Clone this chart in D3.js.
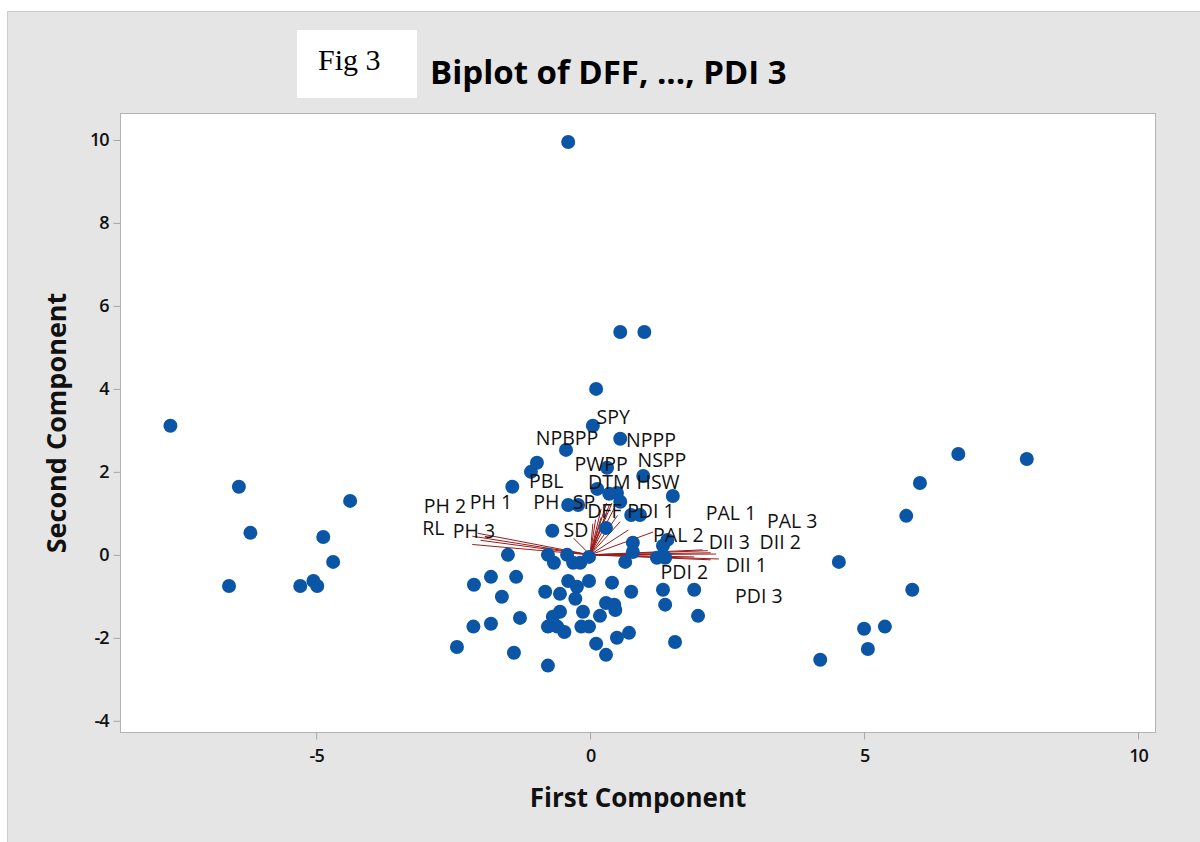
<!DOCTYPE html>
<html>
<head>
<meta charset="utf-8">
<script src="https://cdn.jsdelivr.net/npm/d3@7"></script>
<style>
  body { margin: 0; background: #ffffff; }
  svg { display: block; }
</style>
</head>
<body>
<svg></svg>
<script>
// Constants
const width = 1200;
const height = 842;

const plotLeft = 120;
const plotRight = 1155;
const plotTop = 113;
const plotBottom = 732;

// scores (first component, second component)
const scoreX = [
  -0.40, 0.55, 0.99, 0.11, 0.05, -7.66, 0.55, -0.44, -0.97, -1.08,
  0.31, 0.97, -1.42, 1.51, 0.13, 0.35, 0.49, 0.55, -0.40, -0.22,
  0.75, 0.91, 0.29, -0.69, 0.78, 0.78, 1.41, 1.33, 1.22, 1.37,
  0.64, -1.50, -0.77, -0.66, -0.42, -0.31, -0.18, -0.02, -2.12, -1.81,
  -1.35, -1.61, -0.40, -0.24, -0.02, 0.40, 0.75, 1.33, 1.90, -0.82,
  -0.55, -0.27, 0.29, 0.44, 0.46, 1.37, -0.13, 0.18, -0.55, -0.68,
  -0.77, -0.60, -0.47, -0.16, -0.02, -1.81, -1.28, 1.97, 0.71, 0.49,
  0.11, 0.29, -1.39, -0.77, 1.55, -2.13, -2.43,
  -6.41, -4.38, -6.20, -4.87, -4.69, -6.59, -5.29, -5.05, -4.98,
  6.72, 7.97, 6.02, 5.77, 4.54, 5.88, 5.00, 5.38, 5.07, 4.20
];
const scoreY = [
  9.95, 5.37, 5.37, 4.00, 3.11, 3.11, 2.80, 2.53, 2.22, 2.00,
  2.10, 1.90, 1.64, 1.42, 1.59, 1.47, 1.49, 1.28, 1.20, 1.20,
  0.96, 0.96, 0.65, 0.58, 0.29, 0.07, 0.36, 0.22, -0.07, -0.07,
  -0.17, 0.00, 0.00, -0.19, 0.00, -0.19, -0.19, -0.05, -0.72, -0.53,
  -0.53, -1.01, -0.63, -0.77, -0.63, -0.67, -0.89, -0.84, -0.84, -0.89,
  -0.94, -1.06, -1.16, -1.20, -1.33, -1.20, -1.37, -1.47, -1.37, -1.49,
  -1.73, -1.73, -1.86, -1.73, -1.73, -1.66, -1.52, -1.47, -1.88, -2.00,
  -2.14, -2.41, -2.36, -2.67, -2.10, -1.73, -2.22,
  1.64, 1.30, 0.53, 0.43, -0.17, -0.75, -0.75, -0.63, -0.75,
  2.43, 2.31, 1.73, 0.94, -0.17, -0.84, -1.78, -1.73, -2.27, -2.53
];

// variables (loading vectors) and where their labels sit
const varNames = [
  'SPY', 'NPBPP', 'NPPP', 'PWPP', 'NSPP', 'DTM', 'HSW', 'PBL', 'PH', 'SP',
  'DFF', 'PDI 1', 'SD', 'PH 2', 'PH 1', 'RL', 'PH 3',
  'PAL 1', 'PAL 3', 'PAL 2', 'DII 3', 'DII 2', 'DII 1', 'PDI 2', 'PDI 3'
];
const loadX = [
  0.30, 0.20, 0.35, 0.40, 0.45, 0.30, 0.50, 0.10, 0.05, 0.20,
  0.55, 0.70, -0.30, -2.05, -2.15, -2.00, -2.15,
  2.05, 2.15, 1.15, 2.20, 2.30, 2.35, 1.90, 2.20
];
const loadY = [
  1.25, 1.10, 1.20, 1.25, 1.15, 1.00, 0.95, 0.85, 0.75, 0.90,
  0.80, 0.60, 0.40, 0.52, 0.45, 0.35, 0.25,
  0.12, 0.10, 0.55, 0.05, 0.02, -0.10, -0.05, -0.12
];
const labelX = [
  0.42, -0.42, 1.11, 0.20, 1.31, 0.35, 1.24, -0.80, -0.80, -0.11,
  0.26, 1.11, -0.26, -2.65, -1.81, -2.86, -2.12,
  2.57, 3.69, 1.61, 2.54, 3.47, 2.85, 1.72, 3.08
];
const labelY = [
  3.33, 2.84, 2.77, 2.19, 2.31, 1.76, 1.76, 1.78, 1.28, 1.28,
  1.08, 1.08, 0.60, 1.20, 1.28, 0.65, 0.58,
  1.01, 0.82, 0.48, 0.31, 0.31, -0.24, -0.39, -0.99
];

const xTicks = [-5, 0, 5, 10];
const yTicks = [-4, -2, 0, 2, 4, 6, 8, 10];

// svg
const svg = d3.select('svg')
    .attr('width', width)
    .attr('height', height);

// outer panel
svg.append('rect')
    .attr('x', 7.5)
    .attr('y', 11.5)
    .attr('width', width)
    .attr('height', height)
    .attr('fill', '#e5e5e5')
    .attr('stroke', '#cccccc');

// plot area
svg.append('rect')
    .attr('x', plotLeft + 0.5)
    .attr('y', plotTop + 0.5)
    .attr('width', plotRight - plotLeft)
    .attr('height', plotBottom - plotTop)
    .attr('fill', '#ffffff')
    .attr('stroke', '#b3b3b3');

// scales
const x = d3.scaleLinear()
    .domain([-8.58, 10.31])
    .range([plotLeft, plotRight]);

const y = d3.scaleLinear()
    .domain([-4.27, 10.65])
    .range([plotBottom, plotTop]);

// xAxis
const xAxis = d3.axisBottom(x)
    .tickValues(xTicks)
    .tickSize(7)
    .tickPadding(10)
    .tickFormat(d => String(d));

const gx = svg.append('g')
    .attr('transform', `translate(0, ${plotBottom + 0.5})`)
    .call(xAxis);

// yAxis
const yAxis = d3.axisLeft(y)
    .tickValues(yTicks)
    .tickSize(7)
    .tickPadding(5)
    .tickFormat(d => String(d));

const gy = svg.append('g')
    .attr('transform', `translate(${plotLeft + 0.5}, 0)`)
    .call(yAxis);

[gx, gy].forEach(g => {
    g.select('.domain').remove();
    g.selectAll('.tick line').attr('stroke', '#a6a6a6');
    g.selectAll('.tick text')
        .attr('fill', '#111111')
        .style('font-family', '"Open Sans", sans-serif')
        .style('font-weight', 600)
        .style('font-size', '18px')
        .style('letter-spacing', '-1px');
});

// loading vectors
svg.append('g')
    .selectAll('line')
    .data(varNames).enter().append('line')
    .attr('x1', x(0))
    .attr('y1', y(0))
    .attr('x2', (d, i) => x(loadX[i]))
    .attr('y2', (d, i) => y(loadY[i]))
    .attr('stroke', '#9b1b1b')
    .attr('stroke-width', 1);

// score points
svg.append('g')
    .selectAll('circle')
    .data(scoreX).enter().append('circle')
    .attr('cx', d => x(d))
    .attr('cy', (d, i) => y(scoreY[i]))
    .attr('r', 7)
    .attr('fill', '#0a55a6');

// vector labels
svg.append('g')
    .selectAll('text')
    .data(varNames).enter().append('text')
    .attr('x', (d, i) => x(labelX[i]))
    .attr('y', (d, i) => y(labelY[i]))
    .attr('text-anchor', 'middle')
    .attr('dominant-baseline', 'central')
    .attr('fill', '#111111')
    .style('font-family', '"Open Sans", sans-serif')
    .style('font-size', '19.5px')
    .text(d => d);

// titles
svg.append('rect')
    .attr('x', 297)
    .attr('y', 30)
    .attr('width', 120)
    .attr('height', 68)
    .attr('fill', '#ffffff');

svg.append('text')
    .attr('x', 318)
    .attr('y', 70)
    .style('font-family', '"Liberation Serif", serif')
    .style('font-size', '30px')
    .attr('fill', '#000000')
    .text('Fig 3');

svg.append('text')
    .attr('x', 430)
    .attr('y', 84)
    .style('font-family', '"Open Sans", sans-serif')
    .style('font-weight', 700)
    .style('font-size', '33px')
    .attr('fill', '#000000')
    .text('Biplot of DFF, ..., PDI 3');

svg.append('text')
    .attr('x', 638)
    .attr('y', 807)
    .attr('text-anchor', 'middle')
    .style('font-family', '"Open Sans", sans-serif')
    .style('font-weight', 700)
    .style('font-size', '26px')
    .attr('fill', '#111111')
    .text('First Component');

svg.append('text')
    .attr('transform', `translate(66, 423) rotate(-90)`)
    .attr('text-anchor', 'middle')
    .style('font-family', '"Open Sans", sans-serif')
    .style('font-weight', 700)
    .style('font-size', '27px')
    .attr('fill', '#111111')
    .text('Second Component');
</script>
</body>
</html>
